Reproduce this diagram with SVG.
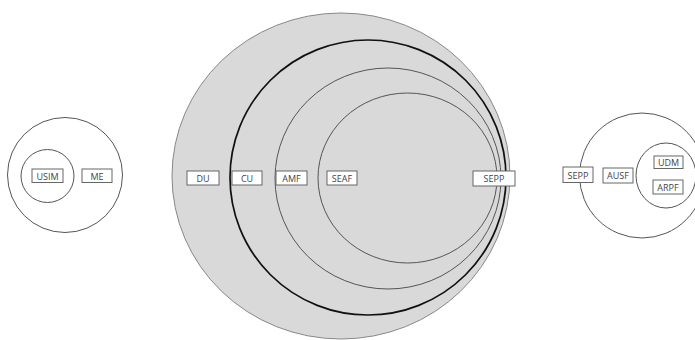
<svg xmlns="http://www.w3.org/2000/svg" width="695" height="340" viewBox="0 0 695 340">
<style>
.ring{fill:none;stroke:#555;stroke-width:1}
.box{fill:#fff;stroke:#666;stroke-width:1}
.lbl{font-family:"Open Sans","Liberation Sans",sans-serif;font-size:9px;fill:#444;text-anchor:middle;dominant-baseline:central}
</style>
<rect width="695" height="340" fill="#fff"/>
<g id="ue">
<circle class="ring" cx="65" cy="175" r="57.5" stroke="#666"/>
<circle class="ring" cx="47.5" cy="176" r="26.5"/>
<g id="usim"><rect class="box" x="32" y="169" width="31" height="13.5"/><text class="lbl" x="47.5" y="176">USIM</text></g>
<g id="me"><rect class="box" x="82" y="169" width="30" height="13.5"/><text class="lbl" x="97" y="176">ME</text></g>
</g>
<g id="serving">
<ellipse cx="341" cy="176" rx="169" ry="163" fill="#d9d9d9" stroke="#888" stroke-width="1"/>
<ellipse cx="368" cy="177.5" rx="138" ry="137.5" fill="none" stroke="#111" stroke-width="1.7"/>
<ellipse class="ring" cx="388" cy="178.5" rx="113" ry="110.5"/>
<ellipse class="ring" cx="407.5" cy="178" rx="89.5" ry="85"/>
<g id="du"><rect class="box" x="187" y="171" width="32" height="14"/><text class="lbl" x="203" y="178">DU</text></g>
<g id="cu"><rect class="box" x="232" y="171" width="30" height="14"/><text class="lbl" x="247" y="178">CU</text></g>
<g id="amf"><rect class="box" x="276" y="171" width="31" height="14"/><text class="lbl" x="291.5" y="178">AMF</text></g>
<g id="seaf"><rect class="box" x="327" y="171" width="30" height="14"/><text class="lbl" x="342" y="178">SEAF</text></g>
<g id="sepp1"><rect class="box" x="473" y="171" width="42" height="15"/><text class="lbl" x="494" y="178.5">SEPP</text></g>
</g>
<g id="home">
<circle class="ring" cx="642" cy="175.5" r="62.5" stroke="#444"/>
<ellipse class="ring" cx="666" cy="175.5" rx="30" ry="32.5" stroke="#444"/>
<g id="sepp2"><rect class="box" x="563" y="167" width="30" height="15.5"/><text class="lbl" x="578" y="175">SEPP</text></g>
<g id="ausf"><rect class="box" x="603" y="168" width="30" height="15"/><text class="lbl" x="618" y="175.5">AUSF</text></g>
<g id="udm"><rect class="box" x="654" y="156" width="29" height="12.5"/><text class="lbl" x="668.5" y="162.5">UDM</text></g>
<g id="arpf"><rect class="box" x="653" y="180" width="30" height="14"/><text class="lbl" x="668" y="187">ARPF</text></g>
</g>
<g id="connectors"/>
</svg>
